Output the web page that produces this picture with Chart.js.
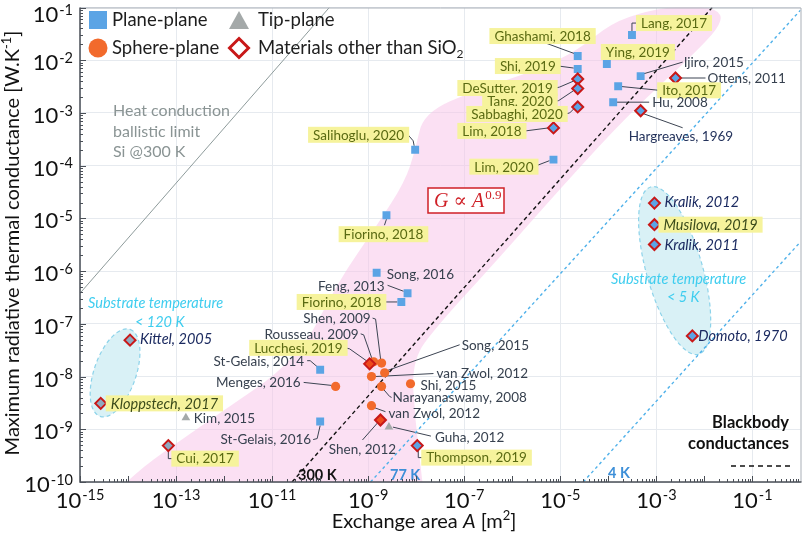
<!DOCTYPE html>
<html><head><meta charset="utf-8">
<script src="https://cdn.jsdelivr.net/npm/chart.js@4.4.0/dist/chart.umd.min.js"></script>
<style>html,body{margin:0;padding:0;background:#fff;}#wrap{width:808px;height:534px;}</style>
</head><body><div id="wrap"><canvas id="c" width="808" height="534"></canvas></div>
<script>
// ---------------- DATA ----------------
const studyNames = ["Lang, 2017","Ghashami, 2018","Shi, 2019","Ying, 2019","Ijiro, 2015","Ottens, 2011","DeSutter, 2019","Tang, 2020","Ito, 2017","Hu, 2008","Sabbaghi, 2020","Hargreaves, 1969","Lim, 2018","Lim, 2020","Salihoglu, 2020","Fiorino, 2018","Song, 2016","Feng, 2013","Fiorino, 2018","Shen, 2009","Rousseau, 2009","Lucchesi, 2019","St-Gelais, 2014","Song, 2015","van Zwol, 2012","Menges, 2016","Shi, 2015","Narayanaswamy, 2008","van Zwol, 2012","Shen, 2012","Guha, 2012","Thompson, 2019","St-Gelais, 2016","Kittel, 2005","Kloppstech, 2017","Kim, 2015","Cui, 2017","Kralik, 2012","Musilova, 2019","Kralik, 2011","Domoto, 1970"];
const exchangeArea = [3.1e-4,2.3e-5,2.3e-5,9.3e-5,4.7e-4,2.5e-3,2.3e-5,2.3e-5,1.6e-4,1.26e-4,2.3e-5,4.7e-4,7.2e-6,7.2e-6,9.5e-9,2.4e-9,1.5e-9,6.6e-9,4.9e-9,1.9e-9,1.3e-9,1.07e-9,1.0e-10,2.2e-9,1.17e-9,2.1e-10,7.6e-9,1.9e-9,1.17e-9,1.8e-9,2.7e-9,1.05e-8,1.0e-10,1.1e-14,2.7e-15,1.6e-13,6.9e-14,9.1e-4,9.1e-4,9.1e-4,5.6e-3];
const maxConductance = [3.0e-2,1.2e-2,6.8e-3,8.5e-3,5.0e-3,4.6e-3,4.4e-3,2.9e-3,3.2e-3,1.6e-3,1.3e-3,1.1e-3,5.2e-4,1.3e-4,2.0e-4,1.15e-5,9.3e-7,3.8e-7,2.6e-7,1.8e-8,1.9e-8,1.74e-8,1.35e-8,1.18e-8,1.0e-8,6.5e-9,7.3e-9,6.5e-9,2.8e-9,1.5e-9,1.1e-9,4.9e-10,1.4e-9,4.9e-8,3.1e-9,1.65e-9,4.9e-10,1.95e-5,7.6e-6,3.2e-6,5.9e-8];
const geometryType = ["plane","plane","plane","plane","plane","plane","plane","plane","plane","plane","plane","plane","plane","plane","plane","plane","plane","plane","plane","sphere","sphere","sphere","plane","sphere","sphere","sphere","sphere","sphere","sphere","sphere","tip","plane","plane","tip","tip","tip","tip","plane","plane","plane","plane"];
const nonSiO2 = [0,0,0,0,0,1,1,1,0,0,1,1,1,0,0,0,0,0,0,0,0,1,0,0,0,0,0,0,0,1,0,1,0,1,1,0,1,1,1,1,1];

const xTickExponents = [-15,-13,-11,-9,-7,-5,-3,-1];
const yTickExponents = [-1,-2,-3,-4,-5,-6,-7,-8,-9,-10];

const heatLimitArea = [1e-15, 1.55e-10];
const heatLimitG = [3.8e-7, 1e-1];
const bb300Area = [2.6e-11, 1.45e-2];
const bb300G = [1e-10, 1e-1];
const bb77Area = [1.12e-9, 1];
const bb77G = [1e-10, 8.9e-2];
const bb4Area = [3.0e-5, 1];
const bb4G = [1e-10, 3.6e-6];

// G ~ A^0.9 band outline (log10 A, log10 G)
const bandLogA = [-14.6,-14.15,-12.31,-10.45,-9.63,-8.80,-8.24,-8.02,-7.85,-6.74,-5.50,-4.63,-3.95,-3.18,-2.40,-1.74,-1.61,-2.09,-3.55,-4.88,-6.34,-7.54,-8.10,-8.02,-7.87,-7.8];
const bandLogG = [-10.6,-10.0,-8.83,-7.67,-6.20,-5.11,-4.31,-3.71,-3.00,-2.56,-2.19,-1.81,-1.30,-1.06,-0.96,-1.02,-1.26,-1.77,-3.00,-4.31,-5.82,-7.01,-7.70,-8.83,-10.0,-10.6];

// ---------------- LAYOUT (label placement, px offsets from marker) ----------------
// [align, dx, dy, style, leader]
const labelPlacement = [
 ['left',9,-12,'hl',[[0,-4],[0,-12],[5,-12]]],
 ['right',13,-20,'hl',[[-2,-2],[-32,-13]]],
 ['right',-22,-3,'hl',[[-4,-1],[-19,-3]]],
 ['left',-1,-12,'hl',null],
 ['left',43,-14,'dk',[[2,-2],[42,-14]]],
 ['left',32,0,'dk',[[5,0],[30,0]]],
 ['right',-25,9,'hl',[[-4,2],[-18,8],[-22,9]]],
 ['right',-25,13,'hl',[[-4,2],[-19,12],[-23,13]]],
 ['left',44,4,'hl',[[1,0],[41,4]]],
 ['left',39,0,'dk',[[0,0],[36,0]]],
 ['right',-15,7,'hl',[[-3,1],[-8,6],[-12,7]]],
 ['left',-12,25,'nv',[[3,3],[42,17]]],
 ['right',-32,3,'hl',[[-5,0],[-28,3]]],
 ['right',-20,7,'hl',[[-4,1],[-17,6]]],
 ['right',-11,-15,'hl',[[-1,-4],[-2,-9],[-8,-16]]],
 ['center',-3,19,'hl',[[0,4],[-2,10]]],
 ['left',10,1,'dk',null],
 ['right',-23,-7,'dk',[[-4,-2],[-20,-8]]],
 ['right',-20,0,'hl',[[-4,0],[-17,0]]],
 ['right',-11,-45,'dk',[[-1,-4],[-6,-44],[-9,-45]]],
 ['right',-15,-28,'dk',[[-2,-4],[-10,-27],[-13,-28]]],
 ['right',-27,-16,'hl',[[-3,-3],[-20,-15],[-24,-16]]],
 ['right',-16,-9,'dk',[[-3,-3],[-10,-9],[-13,-9]]],
 ['left',77,-28,'dk',[[2,-2],[75,-28]]],
 ['left',65,-3,'dk',[[3,0],[62,-3]]],
 ['right',-35,-4,'dk',[[-4,-1],[-32,-4]]],
 ['left',10,1,'dk',null],
 ['left',11,11,'dk',[[2,3],[8,10],[10,11]]],
 ['left',17,7,'dk',[[3,2],[14,6]]],
 ['center',-18,29,'dk',[[-3,3],[-18,20]]],
 ['left',46,10,'dk',[[4,0],[42,9]]],
 ['left',9,12,'hl',[[1,4],[1,12],[6,12]]],
 ['right',-9,18,'dk',[[0,4],[-3,17],[-7,18]]],
 ['left',10,-1,'it',null],
 ['left',10,0,'ith',null],
 ['left',8,0,'dk',null],
 ['left',8,13,'hl',[[0,4],[0,13],[4,13]]],
 ['left',10,-1,'it',null],
 ['left',9,0,'ith',null],
 ['left',10,0,'it',null],
 ['left',6,0,'it',null]
];

const FONT = 'Lato, "Open Sans", sans-serif';
const labelStyles = {
  hl:{color:'#5a6a12', italic:false, hl:true},
  dk:{color:'#37414f', italic:false, hl:false},
  nv:{color:'#24335c', italic:false, hl:false},
  it:{color:'#1b2a60', italic:true, hl:false},
  ith:{color:'#3a4a1a', italic:true, hl:true}
};

// ---------------- DATASETS ----------------
const idxOf = (g, m) => studyNames.map((n,i)=>i).filter(i => geometryType[i]===g && nonSiO2[i]===m);
const pts = idx => idx.map(i => ({x: exchangeArea[i], y: maxConductance[i]}));
const linePts = (a, g) => a.map((v,i)=>({x:v, y:g[i]}));

const BLUE='#5ba4e5', ORANGE='#f26a2c', GRAY='#a4a9a9', RED='#c81818';
const datasets = [
  {label:'Heat conduction limit', data: linePts(heatLimitArea, heatLimitG), showLine:true, borderColor:'#8e9b9b', borderWidth:1, pointRadius:0, order:10},
  {label:'300 K', data: linePts(bb300Area, bb300G), showLine:true, borderColor:'#111', borderWidth:1.4, borderDash:[4,3], pointRadius:0, order:10},
  {label:'77 K', data: linePts(bb77Area, bb77G), showLine:true, borderColor:'#4fb1ea', borderWidth:1.4, borderDash:[3,3], pointRadius:0, order:10},
  {label:'4 K', data: linePts(bb4Area, bb4G), showLine:true, borderColor:'#4fb1ea', borderWidth:1.4, borderDash:[3,3], pointRadius:0, order:10},
  {label:'Plane-plane', data: pts(idxOf('plane',0)), pointStyle:'rect', pointRadius:5.6, backgroundColor:BLUE, borderWidth:0, order:1},
  {label:'Sphere-plane', data: pts(idxOf('sphere',0)), pointStyle:'circle', pointRadius:4.6, backgroundColor:ORANGE, borderWidth:0, order:1},
  {label:'Tip-plane', data: pts(idxOf('tip',0)), pointStyle:'triangle', pointRadius:5, backgroundColor:GRAY, borderWidth:0, order:1},
  {label:'Plane-plane, other materials', data: pts(idxOf('plane',1)), pointStyle:'rectRot', pointRadius:5.5, backgroundColor:BLUE, borderColor:RED, borderWidth:2, order:0},
  {label:'Sphere-plane, other materials', data: pts(idxOf('sphere',1)), pointStyle:'rectRot', pointRadius:5.5, backgroundColor:'#ee4a1c', borderColor:RED, borderWidth:2, order:0},
  {label:'Tip-plane, other materials', data: pts(idxOf('tip',1)), pointStyle:'rectRot', pointRadius:5.5, backgroundColor:'#8fa9c0', borderColor:RED, borderWidth:2, order:0}
];

// ---------------- HELPERS ----------------
function smoothPath(ctx, p){
  ctx.moveTo(p[0][0], p[0][1]);
  for (let i=1;i<p.length-1;i++){
    const mx=(p[i][0]+p[i+1][0])/2, my=(p[i][1]+p[i+1][1])/2;
    ctx.quadraticCurveTo(p[i][0], p[i][1], mx, my);
  }
  ctx.lineTo(p[p.length-1][0], p[p.length-1][1]);
}
function drawEllipse(ctx, xs, ys, logA, logG, rx, ry, angDeg){
  const cx = xs.getPixelForValue(Math.pow(10,logA)), cy = ys.getPixelForValue(Math.pow(10,logG));
  ctx.save();
  ctx.beginPath();
  ctx.ellipse(cx, cy, rx, ry, angDeg*Math.PI/180, 0, Math.PI*2);
  ctx.fillStyle='#d9f1f6'; ctx.fill();
  ctx.setLineDash([4,3]); ctx.strokeStyle='#8dd3ea'; ctx.lineWidth=1.2; ctx.stroke();
  ctx.restore();
}
function powLabel(ctx, x, yBase, yExp, exp, align, baseSize, expSize){
  ctx.font = baseSize+'px '+FONT; const wb = ctx.measureText('10').width;
  ctx.font = expSize+'px '+FONT; const we = ctx.measureText(String(exp)).width;
  const tot = wb+we+1;
  let left = align==='center' ? x - tot/2 : x - tot;
  ctx.textBaseline='middle'; ctx.textAlign='left';
  ctx.font = baseSize+'px '+FONT; ctx.fillText('10', left, yBase);
  ctx.font = expSize+'px '+FONT; ctx.fillText(String(exp), left+wb+1, yExp);
}

// ---------------- PLUGIN ----------------
const decor = {
  id:'decor',
  beforeDatasetsDraw(chart){
    const {ctx, chartArea:ca, scales:{x:xs, y:ys}} = chart;
    ctx.save();
    ctx.beginPath(); ctx.rect(ca.left, ca.top, ca.right-ca.left, ca.bottom-ca.top); ctx.clip();
    const bp = bandLogA.map((a,i)=>[xs.getPixelForValue(Math.pow(10,a)), ys.getPixelForValue(Math.pow(10,bandLogG[i]))]);
    ctx.beginPath(); smoothPath(ctx, bp); ctx.closePath();
    ctx.fillStyle='rgba(248,196,232,0.52)'; ctx.fill();
    drawEllipse(ctx, xs, ys, -14.27, -7.93, 46, 21, -71);
    drawEllipse(ctx, xs, ys, -2.62, -5.99, 87, 28, 74);
    ctx.strokeStyle='#3c4452'; ctx.lineWidth=1; ctx.setLineDash([]);
    studyNames.forEach((n,i)=>{
      const lp = labelPlacement[i]; if(!lp[4]) return;
      const px = xs.getPixelForValue(exchangeArea[i]), py = ys.getPixelForValue(maxConductance[i]);
      ctx.beginPath();
      lp[4].forEach((o,k)=>{ if(k===0) ctx.moveTo(px+o[0], py+o[1]); else ctx.lineTo(px+o[0], py+o[1]); });
      ctx.stroke();
    });
    ctx.restore();
  },
  afterDatasetsDraw(chart){
    const {ctx, chartArea:ca, scales:{x:xs, y:ys}} = chart;
    ctx.save();
    studyNames.forEach((n,i)=>{
      const [al, dx, dy, st] = labelPlacement[i];
      const s = labelStyles[st];
      const px = xs.getPixelForValue(exchangeArea[i]), py = ys.getPixelForValue(maxConductance[i]);
      ctx.font = s.italic ? 'italic 14.5px '+FONT : '13.5px '+FONT;
      const w = ctx.measureText(n).width;
      let left = px+dx; if(al==='right') left = px+dx-w; if(al==='center') left = px+dx-w/2;
      const cy = py+dy;
      if(s.hl){ ctx.fillStyle='#f6f39c'; ctx.fillRect(left-5, cy-8, w+10, 16); }
      ctx.fillStyle = s.color; ctx.textAlign='left'; ctx.textBaseline='middle';
      ctx.fillText(n, left, cy+0.5);
    });
    ctx.textAlign='left'; ctx.textBaseline='middle';
    ctx.fillStyle='#8a9494'; ctx.font='16px '+FONT;
    ctx.fillText('Heat conduction',113,111);
    ctx.fillText('ballistic limit',113,132);
    ctx.fillText('Si @300 K',113,152);
    ctx.fillStyle='#3ecdef'; ctx.font='italic 14.5px '+FONT;
    ctx.fillText('Substrate temperature',88,303);
    ctx.fillText('< 120 K',135,322);
    ctx.fillText('Substrate temperature',611,279);
    ctx.fillText('< 5 K',667,297);
    ctx.fillStyle='#111'; ctx.font='bold 16.5px '+FONT; ctx.textAlign='right';
    ctx.fillText('Blackbody',789,423);
    ctx.fillText('conductances',789,444);
    ctx.beginPath(); ctx.setLineDash([5,4]); ctx.strokeStyle='#111'; ctx.lineWidth=1.5;
    ctx.moveTo(731,466); ctx.lineTo(790,466); ctx.stroke(); ctx.setLineDash([]);
    ctx.textAlign='left'; ctx.font='bold 14.5px '+FONT;
    ctx.fillStyle='#111'; ctx.fillText('300 K',298,475);
    ctx.fillStyle='#3d8fd8'; ctx.fillText('77 K',390,475); ctx.fillText('4 K',608,473);
    // G ∝ A^0.9 box
    ctx.fillStyle='#fff'; ctx.fillRect(428,188,76,25);
    ctx.strokeStyle='#cf2027'; ctx.lineWidth=1.5; ctx.strokeRect(428,188,76,25);
    ctx.fillStyle='#cf2027'; ctx.textBaseline='alphabetic';
    ctx.font='italic 20px "Liberation Serif", "DejaVu Serif", serif';
    ctx.fillText('G \u221D A', 434, 207);
    const gw = ctx.measureText('G \u221D A').width;
    ctx.font='13px "Liberation Serif", serif'; ctx.fillText('0.9', 434+gw+1, 199);
    // legend
    ctx.textBaseline='middle';
    ctx.fillStyle=BLUE; ctx.fillRect(89,11,18,18);
    ctx.fillStyle=ORANGE; ctx.beginPath(); ctx.arc(98,48,9.5,0,Math.PI*2); ctx.fill();
    ctx.fillStyle=GRAY; ctx.beginPath(); ctx.moveTo(239,11); ctx.lineTo(249,29); ctx.lineTo(229,29); ctx.closePath(); ctx.fill();
    ctx.beginPath(); ctx.moveTo(239,38.5); ctx.lineTo(248.5,48); ctx.lineTo(239,57.5); ctx.lineTo(229.5,48); ctx.closePath();
    ctx.fillStyle='#fff'; ctx.fill(); ctx.strokeStyle=RED; ctx.lineWidth=3; ctx.stroke();
    ctx.fillStyle='#1e1e1e'; ctx.font='18.5px '+FONT;
    ctx.fillText('Plane-plane',112,20);
    ctx.fillText('Sphere-plane',112,48);
    ctx.fillText('Tip-plane',258,20);
    const mt='Materials other than SiO'; ctx.fillText(mt,258,48);
    const mw=ctx.measureText(mt).width; ctx.font='12px '+FONT; ctx.fillText('2',258+mw,54);
    ctx.restore();
  },
  afterDraw(chart){
    const {ctx, chartArea:ca, scales:{x:xs, y:ys}} = chart;
    ctx.save();
    ctx.lineWidth=1; ctx.strokeStyle='#a9afb7';
    ctx.beginPath(); ctx.moveTo(ca.left,ca.top+0.5); ctx.lineTo(ca.right+0.5,ca.top+0.5); ctx.lineTo(ca.right+0.5,ca.bottom); ctx.stroke();
    ctx.strokeStyle='#4a4f57'; ctx.lineWidth=1.5;
    ctx.beginPath(); ctx.moveTo(ca.left,ca.top); ctx.lineTo(ca.left,ca.bottom); ctx.lineTo(ca.right+1,ca.bottom); ctx.stroke();
    ctx.lineWidth=1; ctx.strokeStyle='#4a4f57';
    for(let d=-15; d<0; d++){
      for(let m=1;m<10;m++){
        const x = Math.round(xs.getPixelForValue(m*Math.pow(10,d)))+0.5;
        const L = m===1?6:3;
        ctx.beginPath(); ctx.moveTo(x,ca.bottom); ctx.lineTo(x,ca.bottom-L); ctx.stroke();
      }
    }
    for(let d=-10; d<=-1; d++){
      for(let m=1;m<10;m++){
        const v=m*Math.pow(10,d); if(v>0.1+1e-12) continue;
        const y = Math.round(ys.getPixelForValue(v))+0.5;
        const L = m===1?6:3;
        ctx.beginPath(); ctx.moveTo(ca.left,y); ctx.lineTo(ca.left+L,y); ctx.stroke();
      }
    }
    ctx.fillStyle='#111';
    xTickExponents.forEach(e=>{
      const x = xs.getPixelForValue(Math.pow(10,e));
      powLabel(ctx, x, 501, 495, e, 'center', 22, 14.5);
    });
    yTickExponents.forEach(e=>{
      const y = ys.getPixelForValue(Math.pow(10,e));
      const yb = Math.max(y+3, 15);
      powLabel(ctx, 73, yb, yb-5, e, 'right', 22, 14.5);
    });
    ctx.fillStyle='#111'; ctx.textBaseline='middle'; ctx.textAlign='left';
    const parts = [['Exchange area ',''],['A','italic '],[' [m','']];
    const widths = parts.map(p=>{ctx.font=p[1]+'20px '+FONT; return ctx.measureText(p[0]).width;});
    ctx.font='13px '+FONT; const w2=ctx.measureText('2').width;
    ctx.font='20px '+FONT; const wb=ctx.measureText(']').width;
    const total = widths.reduce((a,b)=>a+b,0)+w2+wb;
    let xx = 424 - total/2;
    parts.forEach((p,k)=>{ ctx.font=p[1]+'20px '+FONT; ctx.fillText(p[0], xx, 522); xx+=widths[k]; });
    ctx.font='13px '+FONT; ctx.fillText('2', xx, 516); xx+=w2;
    ctx.font='20px '+FONT; ctx.fillText(']', xx, 522);
    ctx.save();
    ctx.translate(13, 243); ctx.rotate(-Math.PI/2);
    const t1='Maximum radiative thermal conductance [W.K', t2='-1', t3=']';
    ctx.font='20px '+FONT; const a1=ctx.measureText(t1).width, a3=ctx.measureText(t3).width;
    ctx.font='13px '+FONT; const a2=ctx.measureText(t2).width;
    let sx = -(a1+a2+a3)/2;
    ctx.font='20px '+FONT; ctx.fillText(t1, sx, 0); sx+=a1;
    ctx.font='13px '+FONT; ctx.fillText(t2, sx, -6); sx+=a2;
    ctx.font='20px '+FONT; ctx.fillText(t3, sx, 0);
    ctx.restore();
    ctx.restore();
  }
};

new Chart(document.getElementById('c'), {
  type:'scatter',
  data:{datasets},
  options:{
    responsive:false, animation:false, devicePixelRatio:1, events:[],
    layout:{padding:{top:4,right:2,left:0,bottom:0}},
    plugins:{legend:{display:false}, tooltip:{enabled:false}},
    scales:{
      x:{type:'logarithmic', min:1e-15, max:1,
         afterBuildTicks:s=>{ s.ticks = xTickExponents.map(e=>({value:Math.pow(10,e)})); },
         ticks:{display:false}, grid:{color:'#e6eaef', drawTicks:false}, border:{display:false},
         afterFit:s=>{ s.height=52; }},
      y:{type:'logarithmic', min:1e-10, max:1e-1,
         afterBuildTicks:s=>{ s.ticks = yTickExponents.map(e=>({value:Math.pow(10,e)})); },
         ticks:{display:false}, grid:{color:'#e6eaef', drawTicks:false}, border:{display:false},
         afterFit:s=>{ s.width=80; }}
    }
  },
  plugins:[decor]
});
</script></body></html>
